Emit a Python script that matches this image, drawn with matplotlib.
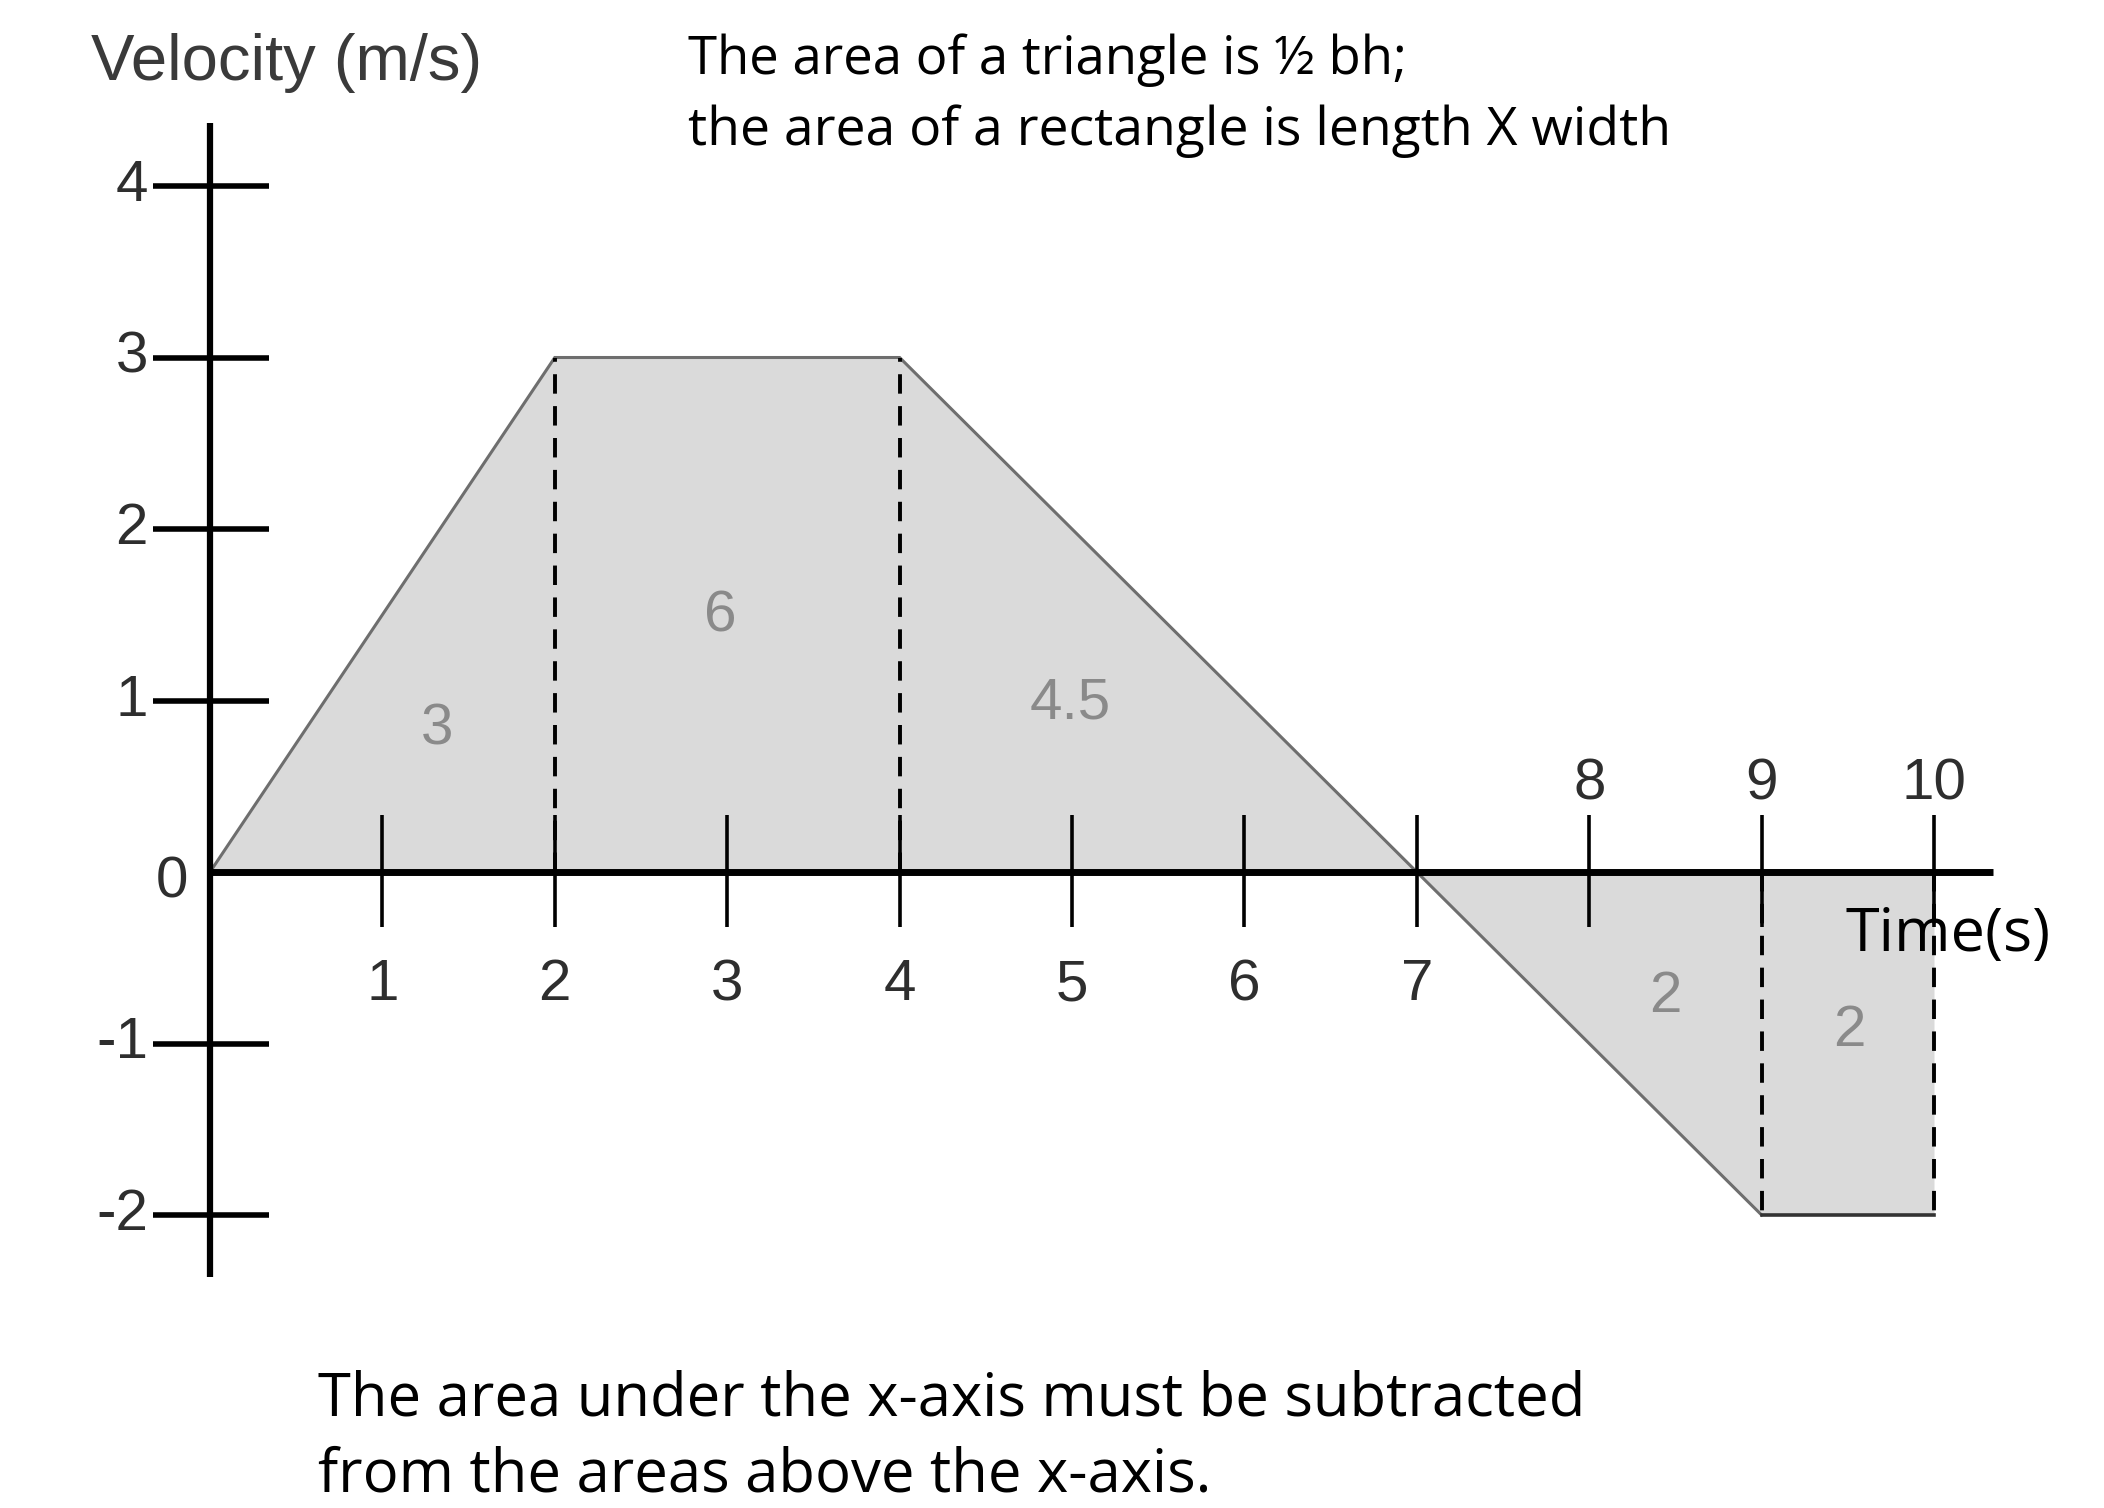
import matplotlib.pyplot as plt

# === DATA ===
times = [0, 2, 4, 7, 9, 10]
velocity = [0, 3, 3, 0, -2, -2]
dashed_x = [2, 4, 9, 10]
x_ticks = [1, 2, 3, 4, 5, 6, 7, 8, 9, 10]
y_ticks = [4, 3, 2, 1, -1, -2]
area_labels = ["3", "6", "4.5", "2", "2"]
area_pos = [(1.32, 0.83), (2.96, 1.49), (4.99, 0.98), (8.44, -0.73), (9.51, -0.93)]

W, H = 2104, 1508
FILL = "#dadada"
EDGE = "#6e6e6e"
LABEL_COLOR = "#2e2e2e"

fig = plt.figure(figsize=(W / 100, H / 100), dpi=100)
ax = fig.add_axes([0, 0, 1, 1])
# pixel -> data mapping: x0 at 210 px, 172.4 px/unit; y0 at 872 px, 171.5 px/unit
ax.set_xlim(-210 / 172.4, (W - 210) / 172.4)
ax.set_ylim(-(H - 872) / 171.5, 872 / 171.5)
ax.axis("off")

# shaded area
ax.fill_between(times, velocity, 0, color=FILL, lw=0, zorder=1)
ax.plot(times[:5], velocity[:5], color=EDGE, lw=2.2, zorder=2, solid_joinstyle="miter")
ax.plot(times[4:], velocity[4:], color="#333333", lw=2.6, zorder=2)

# dashed verticals
for x in dashed_x:
    y_end = velocity[times.index(x)]
    ax.plot([x, x], [0, y_end], color="black", lw=2.8, dashes=(5, 3.2), zorder=3)

# axes
ax.plot([0, 10.34], [0, 0], color="black", lw=5, zorder=4, solid_capstyle="butt")
ax.plot([0, 0], [-2.36, 4.37], color="black", lw=4.5, zorder=4, solid_capstyle="butt")

# ticks
for x in x_ticks:
    ax.plot([x, x], [-0.32, 0.33], color="black", lw=2.6, zorder=4, solid_capstyle="butt")
for y in y_ticks:
    ax.plot([-0.33, 0.34], [y, y], color="black", lw=4, zorder=4, solid_capstyle="butt")

tick_font = dict(family="Liberation Sans", fontsize=42, color=LABEL_COLOR)
for x in x_ticks:
    if x <= 7:
        ax.text(x, -0.66, str(x), ha="center", va="center", **tick_font)
    else:
        ax.text(x, 0.51, str(x), ha="center", va="center", **tick_font)
for y in y_ticks:
    ax.text(-0.36, y, str(y), ha="right", va="center", **tick_font)
ax.text(-0.22, -0.06, "0", ha="center", va="center", **tick_font)

# area labels
for lab, (x, y) in zip(area_labels, area_pos):
    ax.text(x, y, lab, ha="center", va="center", family="Liberation Sans",
            fontsize=42, color="#8a8a8a", zorder=5)

# titles / notes
fig.text(91 / W, 1 - 63 / H, "Velocity (m/s)", ha="left", va="center",
         family="Liberation Sans", fontsize=47, color="#3a3a3a")
note_font = dict(family="Open Sans", color="black", ha="left", va="center")
fig.text(688 / W, 1 - 60 / H, "The area of a triangle is ½ bh;", fontsize=38, **note_font)
fig.text(688 / W, 1 - 131 / H, "the area of a rectangle is length X width", fontsize=38.5, **note_font)
fig.text(318 / W, 1 - 1400 / H, "The area under the x-axis must be subtracted", fontsize=43, **note_font)
fig.text(318 / W, 1 - 1476 / H, "from the areas above the x-axis.", fontsize=43, **note_font)
fig.text(1845 / W, 1 - 935 / H, "Time(s)", zorder=6, fontsize=44, **note_font)

fig.savefig("out.png", dpi=100, facecolor="white")
